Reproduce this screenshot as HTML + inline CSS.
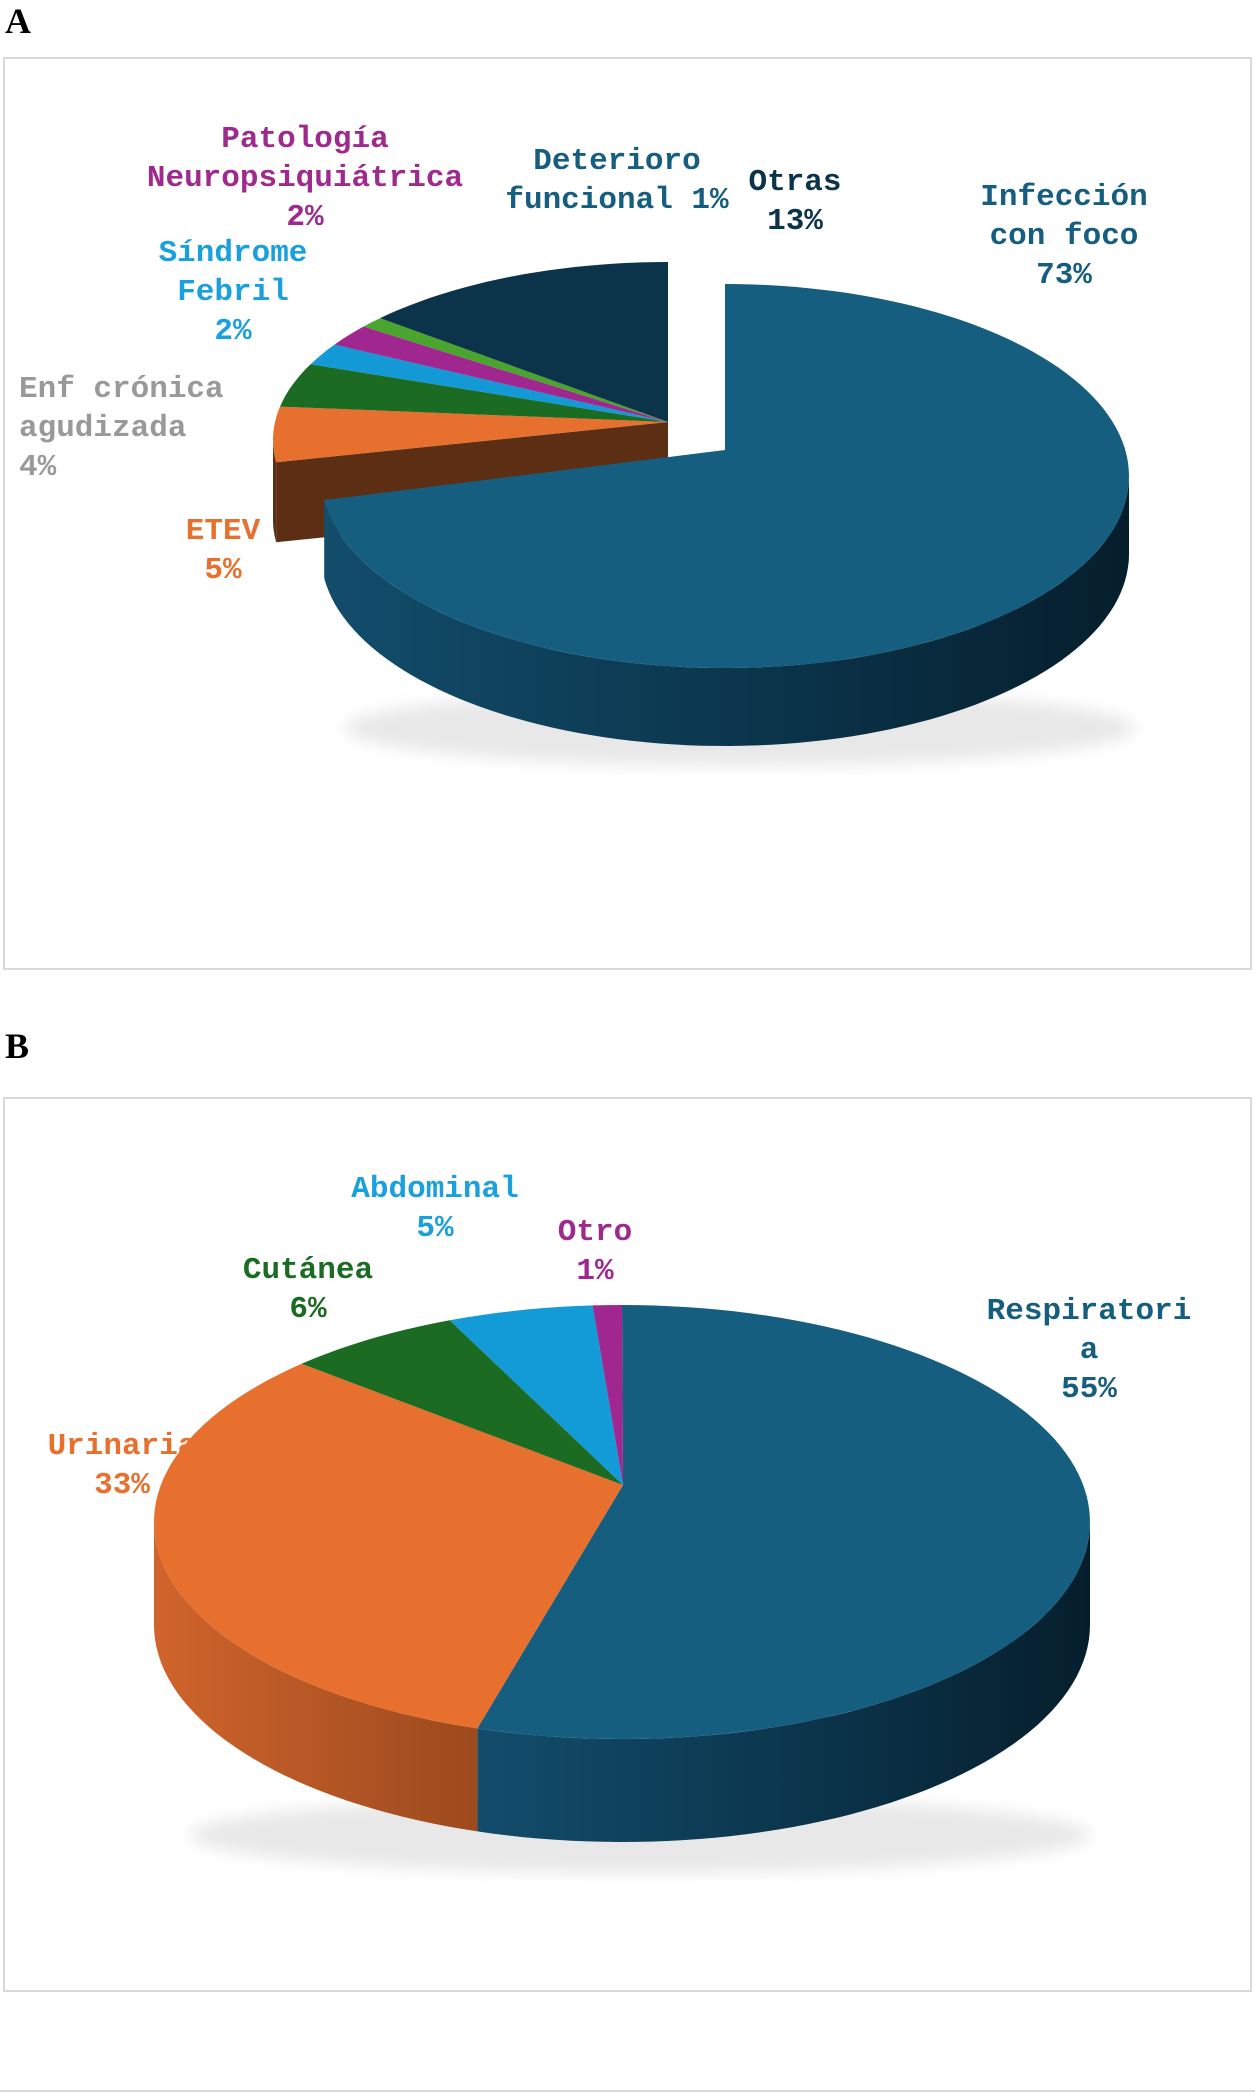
<!DOCTYPE html>
<html><head><meta charset="utf-8"><style>
html,body{margin:0;padding:0;background:#fff;}
svg{display:block;}
text{font-family:"Liberation Mono","DejaVu Sans Mono",monospace;font-weight:bold;font-size:31px;}
.pl{font-family:"Liberation Serif",serif;font-weight:bold;font-size:36px;fill:#000;}
</style></head><body>
<svg id="s" width="1255" height="2095" viewBox="0 0 1255 2095">
<defs>
<linearGradient id="gBlue" x1="0" x2="1" y1="0" y2="0"><stop offset="0" stop-color="#124d6b"/><stop offset="0.6" stop-color="#0a3248"/><stop offset="1" stop-color="#061e2c"/></linearGradient>
<linearGradient id="gOrange" x1="0" x2="1"><stop offset="0" stop-color="#d0642c"/><stop offset="1" stop-color="#9c4a1e"/></linearGradient>
<filter id="blur"><feGaussianBlur stdDeviation="8"/></filter>
</defs>
<text class="pl" x="5" y="33">A</text>
<rect x="4" y="58" width="1247" height="911" fill="none" stroke="#d9d9d9" stroke-width="2"/>
<text class="pl" x="5" y="1058">B</text>
<rect x="4" y="1098" width="1247" height="893" fill="none" stroke="#d9d9d9" stroke-width="2"/>
<line x1="0" y1="2091" x2="1255" y2="2091" stroke="#d9d9d9" stroke-width="2"/>
<g id="ga"></g>
<g id="gb"></g>
</svg>
<script>
const catsA = ["Infección con foco","ETEV","Enf crónica agudizada","Síndrome Febril","Patología Neuropsiquiátrica","Deterioro funcional","Otras"];
const valsA = [73,5,4,2,2,1,13];
const colorsA = ["#165e80","#e8702e","#1b6b22","#1399d6","#a0278f","#4aa52e","#0b3349"];
const catsB = ["Respiratoria","Urinaria","Cutánea","Abdominal","Otro"];
const valsB = [55,33,6,5,1];
const colorsB = ["#165e80","#e8702e","#1b6b22","#139bd7","#a0278f"];
const NS="http://www.w3.org/2000/svg";
function mk(p,tag,attrs){const e=document.createElementNS(NS,tag);for(const k in attrs)e.setAttribute(k,attrs[k]);p.appendChild(e);return e;}
function pt(c,a){const r=a*Math.PI/180;return [c.x+c.rx*Math.sin(r),c.y-c.ry*Math.cos(r)];}
function arcPath(c,a0,a1,dy){let d="";const n=Math.max(2,Math.ceil((a1-a0)/2));for(let i=0;i<=n;i++){const a=a0+(a1-a0)*i/n;const p=pt(c,a);d+=(i?"L":"M")+p[0].toFixed(1)+","+(p[1]+dy).toFixed(1);}return d;}
function topSlice(g,c,a0,a1,fill,name){
  const d="M"+c.ax+","+c.ay+"L"+arcPath(c,a0,a1,0).slice(1)+"Z";
  const e=mk(g,"path",{d:d,fill:fill});
  
  
}
function sideSlice(g,c,a0,a1,fill,name){
  const s=Math.max(a0,90),t=Math.min(a1,270);
  if(t<=s)return;
  let d=arcPath(c,s,t,0);
  const back=[];const n=Math.max(2,Math.ceil((t-s)/2));
  for(let i=n;i>=0;i--){const a=s+(t-s)*i/n;const p=pt(c,a);back.push(p[0].toFixed(1)+","+(p[1]+c.depth).toFixed(1));}
  d+="L"+back.join("L")+"Z";
  const e=mk(g,"path",{d:d,fill:fill});
  
  
}
function label(g,lines,x,y0,color,anchor,name){
  const t=mk(g,"text",{x:x,y:y0,fill:color,"text-anchor":anchor||"middle"});
  
  
  lines.forEach((l,i)=>{const s=mk(t,"tspan",{x:x,y:y0+i*39});s.textContent=l;});
}
function pct(v,tot){return Math.round(v/tot*100)+"%";}
// ---- Chart A
(function(){
  const g=document.getElementById("ga");
  const tot=valsA.reduce((a,b)=>a+b,0);
  const angs=[0];valsA.forEach(v=>angs.push(angs[angs.length-1]+v/tot*360));
  const sh=mk(g,"ellipse",{cx:740,cy:728,rx:395,ry:38,fill:"#000","fill-opacity":0.09,filter:"url(#blur)"});
  
  
  const cg={x:668,y:440,ax:668,ay:422,rx:395,ry:178,depth:80};
  const cm={x:725,y:476,ax:725,ay:450,rx:404,ry:192,depth:78};
  const a1=angs[1];const p=pt(cg,a1);
  const rf=mk(g,"path",{d:`M${cg.ax},${cg.ay}L${p[0]},${p[1]}L${p[0]},${p[1]+cg.depth}L${cg.ax},${cg.ay+cg.depth}Z`,fill:"#5c2e14"});
  
  
  for(let i=1;i<valsA.length;i++) sideSlice(g,cg,angs[i],angs[i+1],"#5c2e14","side-"+i);
  for(let i=1;i<valsA.length;i++) topSlice(g,cg,angs[i],angs[i+1],colorsA[i],"slice-"+catsA[i].toLowerCase().replace(/\s+/g,"-"));
  sideSlice(g,cm,angs[0],angs[1],"url(#gBlue)","side-infeccion");
  topSlice(g,cm,angs[0],angs[1],colorsA[0],"slice-infeccion-con-foco");
  label(g,["Infección","con foco",pct(valsA[0],tot)],1064,205,"#165e80","middle","label-infeccion");
  label(g,["ETEV",pct(valsA[1],tot)],223,539,"#e8702e","middle","label-etev");
  label(g,["Enf crónica","agudizada",pct(valsA[2],tot)],19,397,"#999999","start","label-enf-cronica");
  label(g,["Síndrome","Febril",pct(valsA[3],tot)],233,261,"#1aa0dd","middle","label-sindrome-febril");
  label(g,["Patología","Neuropsiquiátrica",pct(valsA[4],tot)],305,147,"#9e2a8e","middle","label-patologia");
  label(g,["Deterioro","funcional "+pct(valsA[5],tot)],617,169,"#165e80","middle","label-deterioro");
  label(g,["Otras",pct(valsA[6],tot)],795,190,"#0b3349","middle","label-otras");
})();
// ---- Chart B
(function(){
  const g=document.getElementById("gb");
  const tot=valsB.reduce((a,b)=>a+b,0);
  const angs=[0];valsB.forEach(v=>angs.push(angs[angs.length-1]+v/tot*360));
  label(g,["Urinaria",pct(valsB[1],tot)],122,1454,"#e8702e","middle","label-urinaria");
  const sh=mk(g,"ellipse",{cx:640,cy:1835,rx:450,ry:38,fill:"#000","fill-opacity":0.09,filter:"url(#blur)"});
  
  
  const c={x:622,y:1522,ax:623,ay:1485,rx:468,ry:217,depth:103};
  const sides=["url(#gBlue)","url(#gOrange)","#154f1a","#0e6f9c","#6e1a62"];
  for(let i=0;i<valsB.length;i++) sideSlice(g,c,angs[i],angs[i+1],sides[i],"side-"+catsB[i].toLowerCase());
  for(let i=0;i<valsB.length;i++) topSlice(g,c,angs[i],angs[i+1],colorsB[i],"slice-"+catsB[i].toLowerCase());
  label(g,["Respiratori","a",pct(valsB[0],tot)],1089,1319,"#165e80","middle","label-respiratoria");
  label(g,["Cutánea",pct(valsB[2],tot)],308,1278,"#1b6b22","middle","label-cutanea");
  label(g,["Abdominal",pct(valsB[3],tot)],435,1197,"#1aa0dd","middle","label-abdominal");
  label(g,["Otro",pct(valsB[4],tot)],595,1240,"#9e2a8e","middle","label-otro");
})();
</script>
</body></html>
